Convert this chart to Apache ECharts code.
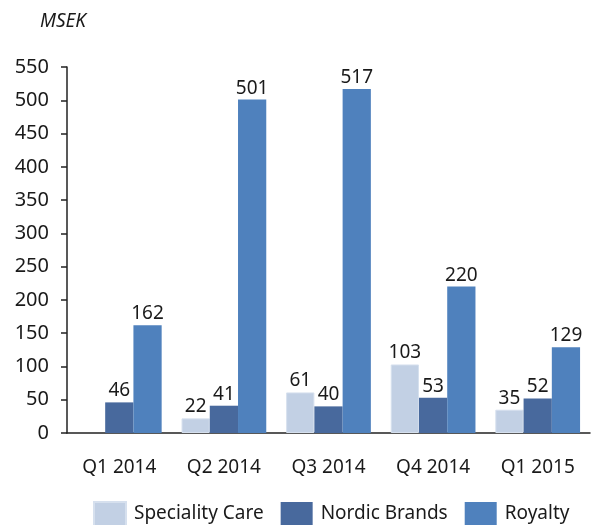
<!DOCTYPE html>
<html>
<head>
<meta charset="utf-8">
<script src="https://cdn.jsdelivr.net/npm/echarts@6/dist/echarts.min.js"></script>
<style>
  html, body { margin: 0; padding: 0; background: #fff; }
  #chart { width: 593px; height: 525px; }
</style>
</head>
<body>
<div id="chart"></div>
<script>
const quarters = ['Q1 2014', 'Q2 2014', 'Q3 2014', 'Q4 2014', 'Q1 2015'];
const specialityCare = [null, 22, 61, 103, 35];
const nordicBrands = [46, 41, 40, 53, 52];
const royalty = [162, 501, 517, 220, 129];

const font = 'Noto Sans';
const chart = echarts.init(document.getElementById('chart'));

const label = {
    show: true,
    position: 'top',
    distance: 2,
    color: '#1a1a1a',
    fontSize: 19,
    fontFamily: font
};

chart.setOption({
    animation: false,
    title: {
        text: 'MSEK',
        left: 35,
        top: 7,
        textStyle: {
            fontSize: 19,
            fontStyle: 'italic',
            fontWeight: 'normal',
            color: '#1a1a1a',
            fontFamily: font
        }
    },
    grid: {
        left: 67,
        right: 3,
        top: 67,
        bottom: 92
    },
    legend: {
        top: 496,
        left: 88,
        itemWidth: 32,
        itemHeight: 24,
        itemGap: 17,
        icon: 'rect',
        textStyle: {
            fontSize: 19,
            color: '#1a1a1a',
            fontFamily: font,
            padding: [0, 0, 0, 3]
        },
        data: ['Speciality Care', 'Nordic Brands', 'Royalty']
    },
    xAxis: {
        type: 'category',
        data: quarters,
        axisLine: { lineStyle: { color: '#222', width: 1.5 } },
        axisTick: { show: false },
        axisLabel: {
            margin: 25,
            fontSize: 19,
            color: '#1a1a1a',
            fontFamily: font
        }
    },
    yAxis: {
        type: 'value',
        min: 0,
        max: 550,
        interval: 50,
        axisLine: { show: true, lineStyle: { color: '#222', width: 1.5 } },
        axisTick: { show: true, length: 6, lineStyle: { color: '#222', width: 1.5 } },
        splitLine: { show: false },
        axisLabel: {
            margin: 18,
            fontSize: 20,
            color: '#1a1a1a',
            fontFamily: font
        }
    },
    series: [
        {
            name: 'Speciality Care',
            type: 'bar',
            data: specialityCare,
            barGap: '0%',
            barCategoryGap: '19%',
            itemStyle: { color: '#c2d0e4', borderColor: '#d6e0ee', borderWidth: 1 },
            label
        },
        {
            name: 'Nordic Brands',
            type: 'bar',
            data: nordicBrands,
            barGap: '0%',
            barCategoryGap: '19%',
            itemStyle: { color: '#48699d' },
            label
        },
        {
            name: 'Royalty',
            type: 'bar',
            data: royalty,
            barGap: '0%',
            barCategoryGap: '19%',
            itemStyle: { color: '#4f81bd' },
            label
        }
    ]
});
</script>
</body>
</html>
